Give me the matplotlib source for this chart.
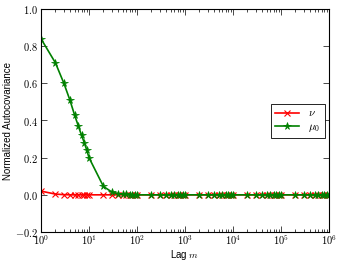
import matplotlib
matplotlib.use('Agg')
import matplotlib.pyplot as plt
from matplotlib.ticker import FuncFormatter, LogLocator
import math

# === Data ===
lags = [1, 2, 3, 4, 5, 6, 7, 8, 9,
        10, 20, 30, 40, 50, 60, 70, 80, 90,
        100, 200, 300, 400, 500, 600, 700, 800, 900,
        1000, 2000, 3000, 4000, 5000, 6000, 7000, 8000, 9000,
        10000, 20000, 30000, 40000, 50000, 60000, 70000, 80000, 90000,
        100000, 200000, 300000, 400000, 500000, 600000, 700000, 800000, 900000,
        1000000]

nu = [0.020, 0.004, 0.001, 0.000, 0.000, 0.000, 0.000, 0.000, 0.000,
      0.000, 0.000, 0.000, 0.000, 0.000, 0.000, 0.000, 0.000, 0.000,
      0.000, 0.000, 0.000, 0.000, 0.000, 0.000, 0.000, 0.000, 0.000,
      0.000, 0.000, 0.000, 0.000, 0.000, 0.000, 0.000, 0.000, 0.000,
      0.000, 0.000, 0.000, 0.000, 0.000, 0.000, 0.000, 0.000, 0.000,
      0.000, 0.000, 0.000, 0.000, 0.000, 0.000, 0.000, 0.000, 0.000,
      0.000]

mu0 = [0.840, 0.710, 0.600, 0.510, 0.430, 0.370, 0.320, 0.280, 0.240,
       0.200, 0.045, 0.015, 0.007, 0.004, 0.002, 0.001, 0.000, 0.000,
       0.000, 0.000, 0.000, 0.000, 0.000, 0.000, 0.000, 0.000, 0.000,
       0.000, 0.000, 0.000, 0.000, 0.000, 0.000, 0.000, 0.000, 0.000,
       0.000, 0.000, 0.000, 0.000, 0.000, 0.000, 0.000, 0.000, 0.000,
       0.000, 0.000, 0.000, 0.000, 0.000, 0.000, 0.000, 0.000, 0.000,
       0.000]

yticks = [-0.2, 0.0, 0.2, 0.4, 0.6, 0.8, 1.0]

# === Style ===
plt.rcParams['mathtext.fontset'] = 'cm'
plt.rcParams['font.family'] = 'Liberation Sans'
plt.rcParams['font.size'] = 7

fig = plt.figure(figsize=(3.41, 2.62), dpi=100)
# axes box: x 41..329 px, y 9..232 px
ax = fig.add_axes([41/341, 30/262, 288/341, 223/262])

ax.plot(lags, nu, color='red', marker='x', lw=1.2, ms=5, mew=0.8, label=r'$\nu$')
ax.plot(lags, mu0, color='green', marker='*', lw=1.2, ms=5.5, mew=0.5,
        mec='green', label=r'$\mu_0$')

ax.set_xscale('log')
ax.set_xlim(1, 1e6)
ax.set_ylim(-0.2, 1.0)
ax.set_yticks(yticks)
ax.yaxis.set_major_formatter(FuncFormatter(lambda v, p: r'$%.1f$' % v))
ax.xaxis.set_major_locator(LogLocator(base=10, numticks=10))
ax.xaxis.set_major_formatter(FuncFormatter(lambda v, p: r'$10^{%d}$' % round(math.log10(v))))

ax.tick_params(which='both', direction='in', top=True, right=True, labelsize=7.5)
ax.tick_params(which='major', length=4, width=0.5)
ax.tick_params(which='minor', length=2, width=0.5)
ax.tick_params(axis='y', pad=2)
ax.tick_params(axis='x', pad=1)
for s in ax.spines.values():
    s.set_linewidth(0.8)

ax.set_xlabel(r'Lag $m$', fontsize=7)
ax.set_ylabel('Normalized Autocovariance', fontsize=7)
ax.xaxis.set_label_coords(0.5, -0.07)
ax.yaxis.set_label_coords(-0.097, 0.5)

leg = ax.legend(loc='upper right', bbox_to_anchor=(0.986, 0.574), borderaxespad=0,
                fontsize=8, fancybox=False, framealpha=1, edgecolor='black',
                handlelength=2.2, borderpad=0.4, labelspacing=0.3,
                handletextpad=0.8)
leg.get_frame().set_linewidth(0.6)

fig.savefig('out.png', dpi=100, facecolor='white')
